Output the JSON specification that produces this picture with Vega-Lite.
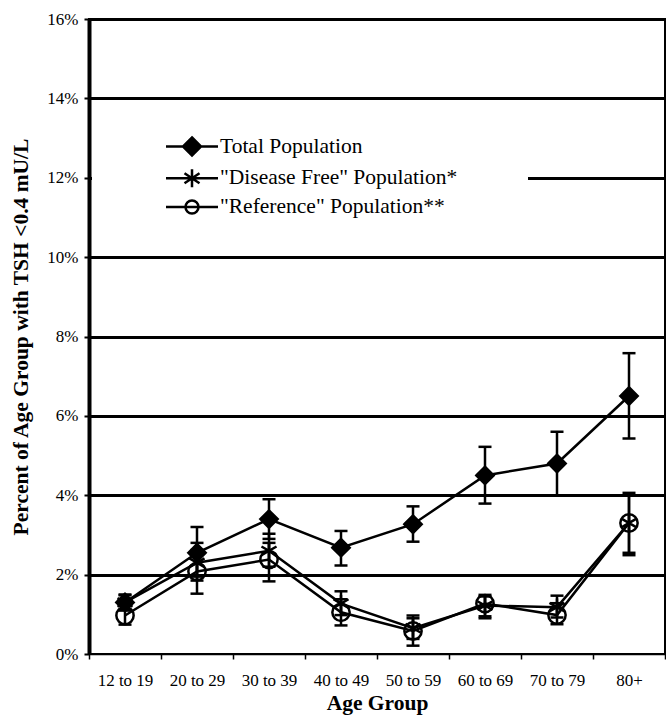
{
  "$schema": "https://vega.github.io/schema/vega-lite/v6.json",
  "width": 576,
  "height": 635,
  "autosize": {"type": "none"},
  "padding": {"left": 89, "top": 19, "right": 1, "bottom": 63},
  "background": "white",
  "config": {
    "view": {"stroke": "#000", "strokeWidth": 2},
    "font": "Liberation Serif",
    "axis": {"labelFont": "Liberation Serif", "titleFont": "Liberation Serif", "labelColor": "#000", "titleColor": "#000", "domainColor": "#000", "tickColor": "#000"}
  },
  "datasets": {
    "d": [
      {"age": "12 to 19", "series": "Total Population", "value": 1.3, "lo": 1.1, "hi": 1.5},
      {"age": "20 to 29", "series": "Total Population", "value": 2.55, "lo": 1.95, "hi": 3.2},
      {"age": "30 to 39", "series": "Total Population", "value": 3.4, "lo": 2.9, "hi": 3.9},
      {"age": "40 to 49", "series": "Total Population", "value": 2.68, "lo": 2.23, "hi": 3.1},
      {"age": "50 to 59", "series": "Total Population", "value": 3.27, "lo": 2.83, "hi": 3.72},
      {"age": "60 to 69", "series": "Total Population", "value": 4.5, "lo": 3.79, "hi": 5.22},
      {"age": "70 to 79", "series": "Total Population", "value": 4.8, "lo": 4.0, "hi": 5.6},
      {"age": "80+", "series": "Total Population", "value": 6.5, "lo": 5.43, "hi": 7.58},
      {"age": "12 to 19", "series": "\"Disease Free\" Population*", "value": 1.3, "lo": 1.1, "hi": 1.48},
      {"age": "20 to 29", "series": "\"Disease Free\" Population*", "value": 2.3, "lo": 1.85, "hi": 2.8},
      {"age": "30 to 39", "series": "\"Disease Free\" Population*", "value": 2.6, "lo": 2.2, "hi": 3.03},
      {"age": "40 to 49", "series": "\"Disease Free\" Population*", "value": 1.27, "lo": 0.98, "hi": 1.58},
      {"age": "50 to 59", "series": "\"Disease Free\" Population*", "value": 0.65, "lo": 0.38, "hi": 0.97},
      {"age": "60 to 69", "series": "\"Disease Free\" Population*", "value": 1.22, "lo": 0.95, "hi": 1.49},
      {"age": "70 to 79", "series": "\"Disease Free\" Population*", "value": 1.18, "lo": 0.92, "hi": 1.47},
      {"age": "80+", "series": "\"Disease Free\" Population*", "value": 3.3, "lo": 2.55, "hi": 4.06},
      {"age": "12 to 19", "series": "\"Reference\" Population**", "value": 0.97, "lo": 0.74, "hi": 1.22},
      {"age": "20 to 29", "series": "\"Reference\" Population**", "value": 2.08, "lo": 1.52, "hi": 2.62},
      {"age": "30 to 39", "series": "\"Reference\" Population**", "value": 2.38, "lo": 1.83, "hi": 2.8},
      {"age": "40 to 49", "series": "\"Reference\" Population**", "value": 1.05, "lo": 0.72, "hi": 1.38},
      {"age": "50 to 59", "series": "\"Reference\" Population**", "value": 0.58, "lo": 0.21, "hi": 0.9},
      {"age": "60 to 69", "series": "\"Reference\" Population**", "value": 1.27, "lo": 0.9, "hi": 1.45},
      {"age": "70 to 79", "series": "\"Reference\" Population**", "value": 0.98, "lo": 0.75, "hi": 1.28},
      {"age": "80+", "series": "\"Reference\" Population**", "value": 3.3, "lo": 2.49, "hi": 4.0}
    ]
  },
  "data": {"name": "d"},
  "encoding": {
    "x": {
      "field": "age", "type": "nominal",
      "sort": ["12 to 19", "20 to 29", "30 to 39", "40 to 49", "50 to 59", "60 to 69", "70 to 79", "80+"],
      "scale": {"type": "band", "paddingInner": 0, "paddingOuter": 0},
      "axis": {"title": "Age Group", "labelAngle": 0, "tickBand": "extent", "domainWidth": 1.5, "tickSize": 5, "tickWidth": 1.5, "labelFontSize": 17, "labelPadding": 13, "titleFontSize": 21.5, "titleFontWeight": "bold", "titlePadding": 4, "grid": false}
    }
  },
  "resolve": {"scale": {"shape": "independent", "fill": "independent"}},
  "layer": [
    {
      "mark": {"type": "rule", "strokeWidth": 2.5, "color": "#000"},
      "encoding": {
        "y": {"field": "lo", "type": "quantitative", "scale": {"domain": [0, 16], "nice": false},
          "axis": {"title": "Percent of Age Group with TSH <0.4 mU/L", "values": [0, 2, 4, 6, 8, 10, 12, 14, 16], "labelExpr": "datum.value + '%'", "grid": true, "gridColor": "#000", "gridWidth": {"condition": {"test": "datum.value === 0", "value": 0}, "value": 3}, "domainWidth": 4, "tickSize": 5, "tickWidth": 2, "labelFontSize": 17, "labelPadding": 6, "titleFontSize": 21.5, "titleFontWeight": "bold", "titlePadding": 14}},
        "y2": {"field": "hi"}
      }
    },
    {
      "mark": {"type": "tick", "size": 13, "thickness": 2.5, "color": "#000", "opacity": 1},
      "encoding": {
        "y": {"field": "lo", "type": "quantitative", "scale": {"domain": [0, 16], "nice": false},
          "axis": {"title": "Percent of Age Group with TSH <0.4 mU/L", "values": [0, 2, 4, 6, 8, 10, 12, 14, 16], "labelExpr": "datum.value + '%'", "grid": true, "gridColor": "#000", "gridWidth": {"condition": {"test": "datum.value === 0", "value": 0}, "value": 3}, "domainWidth": 4, "tickSize": 5, "tickWidth": 2, "labelFontSize": 17, "labelPadding": 6, "titleFontSize": 21.5, "titleFontWeight": "bold", "titlePadding": 14}}
      }
    },
    {
      "mark": {"type": "tick", "size": 13, "thickness": 2.5, "color": "#000", "opacity": 1},
      "encoding": {
        "y": {"field": "hi", "type": "quantitative", "scale": {"domain": [0, 16], "nice": false},
          "axis": {"title": "Percent of Age Group with TSH <0.4 mU/L", "values": [0, 2, 4, 6, 8, 10, 12, 14, 16], "labelExpr": "datum.value + '%'", "grid": true, "gridColor": "#000", "gridWidth": {"condition": {"test": "datum.value === 0", "value": 0}, "value": 3}, "domainWidth": 4, "tickSize": 5, "tickWidth": 2, "labelFontSize": 17, "labelPadding": 6, "titleFontSize": 21.5, "titleFontWeight": "bold", "titlePadding": 14}}
      }
    },
    {
      "mark": {"type": "line", "strokeWidth": 2.5, "color": "#000"},
      "encoding": {
        "y": {"field": "value", "type": "quantitative", "scale": {"domain": [0, 16], "nice": false},
          "axis": {"title": "Percent of Age Group with TSH <0.4 mU/L", "values": [0, 2, 4, 6, 8, 10, 12, 14, 16], "labelExpr": "datum.value + '%'", "grid": true, "gridColor": "#000", "gridWidth": {"condition": {"test": "datum.value === 0", "value": 0}, "value": 3}, "domainWidth": 4, "tickSize": 5, "tickWidth": 2, "labelFontSize": 17, "labelPadding": 6, "titleFontSize": 21.5, "titleFontWeight": "bold", "titlePadding": 14}},
        "detail": {"field": "series", "type": "nominal"}
      }
    },
    {
      "mark": {"type": "point", "size": 300, "strokeWidth": 2.5, "stroke": "#000", "opacity": 1},
      "encoding": {
        "y": {"field": "value", "type": "quantitative", "scale": {"domain": [0, 16], "nice": false},
          "axis": {"title": "Percent of Age Group with TSH <0.4 mU/L", "values": [0, 2, 4, 6, 8, 10, 12, 14, 16], "labelExpr": "datum.value + '%'", "grid": true, "gridColor": "#000", "gridWidth": {"condition": {"test": "datum.value === 0", "value": 0}, "value": 3}, "domainWidth": 4, "tickSize": 5, "tickWidth": 2, "labelFontSize": 17, "labelPadding": 6, "titleFontSize": 21.5, "titleFontWeight": "bold", "titlePadding": 14}},
        "shape": {
          "field": "series", "type": "nominal",
          "scale": {"domain": ["Total Population", "\"Disease Free\" Population*", "\"Reference\" Population**"], "range": ["diamond", "M0,-1L0,1M-0.87,-0.5L0.87,0.5M-0.87,0.5L0.87,-0.5", "circle"]},
          "legend": null
        },
        "fill": {
          "field": "series", "type": "nominal",
          "scale": {"domain": ["Total Population", "\"Disease Free\" Population*", "\"Reference\" Population**"], "range": ["#000", "transparent", "transparent"]},
          "legend": null
        }
      }
    },
    {
      "transform": [{"filter": "false"}],
      "mark": {"type": "point", "size": 400, "strokeWidth": 2.5, "stroke": "#000", "opacity": 1},
      "encoding": {
        "y": {"field": "value", "type": "quantitative", "scale": {"domain": [0, 16], "nice": false},
          "axis": {"title": "Percent of Age Group with TSH <0.4 mU/L", "values": [0, 2, 4, 6, 8, 10, 12, 14, 16], "labelExpr": "datum.value + '%'", "grid": true, "gridColor": "#000", "gridWidth": {"condition": {"test": "datum.value === 0", "value": 0}, "value": 3}, "domainWidth": 4, "tickSize": 5, "tickWidth": 2, "labelFontSize": 17, "labelPadding": 6, "titleFontSize": 21.5, "titleFontWeight": "bold", "titlePadding": 14}},
        "shape": {
          "field": "series", "type": "nominal",
          "scale": {"domain": ["Total Population", "\"Disease Free\" Population*", "\"Reference\" Population**"], "range": ["M-1.05,0L4.15,0M1.55,-0.9L2.45,0L1.55,0.9L0.65,0Z", "M-1.05,0L4.15,0M1.55,-0.9L1.55,0.9M0.8,-0.5L2.3,0.5M0.8,0.5L2.3,-0.5", "M-1.05,0L4.15,0M2.2,0A0.65,0.65 0 1,1 0.9,0A0.65,0.65 0 1,1 2.2,0Z"]},
          "legend": {
            "orient": "none", "legendX": 3, "legendY": 112,
            "title": "\u00a0", "titleOrient": "right", "titleFontSize": 21.5, "titleFont": "Liberation Serif", "titlePadding": 67,
            "fillColor": "white", "padding": 4, "rowPadding": 2.75,
            "labelFont": "Liberation Serif", "labelFontSize": 21.5, "labelColor": "#000", "labelLimit": 600, "labelOffset": 32,
            "symbolOffset": 69,
            "symbolSize": 400, "symbolStrokeWidth": 2.5, "symbolOpacity": 1
          }
        },
        "fill": {
          "field": "series", "type": "nominal",
          "scale": {"domain": ["Total Population", "\"Disease Free\" Population*", "\"Reference\" Population**"], "range": ["#000", "transparent", "transparent"]},
          "legend": {"title": "\u00a0"}
        }
      }
    }
  ]
}
